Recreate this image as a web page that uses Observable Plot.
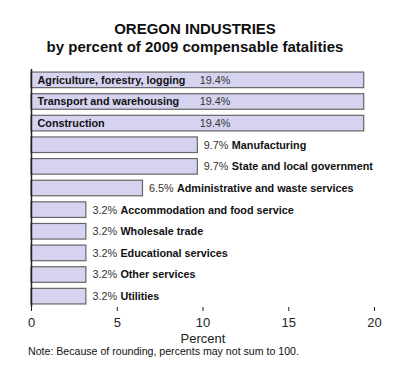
<!DOCTYPE html>
<html>
<head>
<meta charset="utf-8">
<script src="https://cdn.jsdelivr.net/npm/d3@7"></script>
<script src="https://cdn.jsdelivr.net/npm/@observablehq/plot@0.6"></script>
<style>
  body { margin: 0; background: #fff; font-family: "Liberation Sans", Arial, sans-serif; }
  #wrap { position: relative; width: 400px; height: 377px; }
  #title { position: absolute; left: 0; width: 390px; top: 19.5px; text-align: center; font-weight: bold; font-size: 15px; line-height: 18.4px; color: #111; }
  #chart { position: absolute; left: 0; top: 62px; }
  #note { position: absolute; left: 28px; top: 345px; font-size: 10.6px; color: #111; }
</style>
</head>
<body>
<div id="wrap">
  <div id="title">OREGON INDUSTRIES<br>by percent of 2009 compensable fatalities</div>
  <div id="chart"></div>
  <div id="note">Note: Because of rounding, percents may not sum to 100.</div>
</div>
<script>
const industries = [
  "Agriculture, forestry, logging",
  "Transport and warehousing",
  "Construction",
  "Manufacturing",
  "State and local government",
  "Administrative and waste services",
  "Accommodation and food service",
  "Wholesale trade",
  "Educational services",
  "Other services",
  "Utilities"
];
const percents = [19.4, 19.4, 19.4, 9.7, 9.7, 6.5, 3.2, 3.2, 3.2, 3.2, 3.2];
const xTicks = [0, 5, 10, 15, 20];

const data = industries.map((name, i) => ({name, value: percents[i], inside: percents[i] > 15}));
const inside = data.filter(d => d.inside);
const outside = data.filter(d => !d.inside);

const chart = Plot.plot({
  width: 400,
  height: 283,
  marginTop: 7,
  marginBottom: 38,
  marginLeft: 31,
  marginRight: 26,
  style: {fontFamily: "Liberation Sans, Arial, sans-serif", color: "#111"},
  x: {domain: [0, 20], ticks: xTicks, label: null},
  y: {domain: industries, range: [4, 248], padding: 0.28, round: false, axis: null},
  marks: [
    Plot.barX(data, {x: "value", y: "name", fill: "#d5d3ef", stroke: "#666", strokeWidth: 1.2}),
    Plot.text(inside, {x: 0, y: "name", text: "name", textAnchor: "start", dx: 6, fontWeight: "bold", fontSize: 10.8, fill: "#111"}),
    Plot.text(inside, {x: 9.7, y: "name", text: d => d.value.toFixed(1) + "%", textAnchor: "start", dx: 2, fontSize: 10.8, fill: "#333"}),
    Plot.text(outside, {x: "value", y: "name", text: d => d.value.toFixed(1) + "%", textAnchor: "start", dx: 6, fontSize: 10.8, fill: "#333"}),
    Plot.text(outside, {x: "value", y: "name", text: "name", textAnchor: "start", dx: 34, fontWeight: "bold", fontSize: 10.8, fill: "#111"}),
    Plot.ruleX([0], {y1: null, y2: null, stroke: "#222", strokeWidth: 1.5}),
    Plot.axisX({ticks: xTicks, tickSize: 4, tickPadding: 6, fontSize: 13, stroke: "#222", fill: "#222", label: "Percent", labelAnchor: "center", labelArrow: "none", labelOffset: 35}),
    Plot.ruleY([0], {x1: 0, x2: 20, frameAnchor: "bottom", stroke: "#222", strokeWidth: 1.5})
  ]
});
document.getElementById("chart").appendChild(chart);
</script>
</body>
</html>
